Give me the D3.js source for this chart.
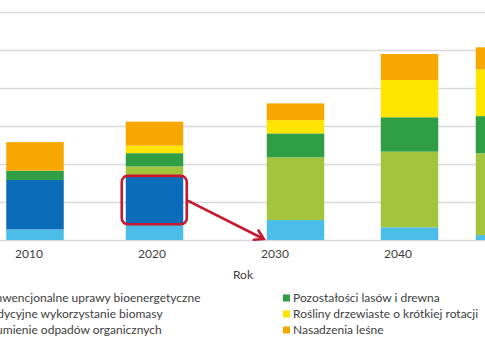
<!DOCTYPE html>
<html>
<head>
<meta charset="utf-8">
<script src="https://cdn.jsdelivr.net/npm/d3@7"></script>
<style>
  html, body { margin: 0; padding: 0; background: #ffffff; overflow: hidden; }
  svg { display: block; }
  text { font-family: Lato, "Open Sans", sans-serif; fill: #404040; }
</style>
</head>
<body>
<svg id="chart" width="485" height="360"></svg>
<script>
// ---- data ----
const years = [2010, 2020, 2030, 2040, 2050];
const yearLabels = [2010, 2020, 2030, 2040];
const seriesNames = [
  "Strumienie odpadów organicznych",
  "Tradycyjne wykorzystanie biomasy",
  "Konwencjonalne uprawy bioenergetyczne",
  "Pozostałości lasów i drewna",
  "Rośliny drzewiaste o krótkiej rotacji",
  "Nasadzenia leśne"
];
const strumienie   = [5.6, 8.0, 10.5, 6.7, 2.6];
const tradycyjne   = [26.0, 26.0, 0, 0, 0];
const konwencjonal = [0, 4.7, 33.0, 39.8, 43.0];
const pozostalosci = [4.9, 7.0, 12.6, 18.1, 19.6];
const rosliny      = [0, 4.0, 7.0, 19.6, 24.6];
const nasadzenia   = [15.0, 12.6, 8.8, 13.7, 11.6];
const yTicks = [0, 20, 40, 60, 80, 100, 120];
const xAxisTitle = "Rok";
const legendLeft = ["Konwencjonalne uprawy bioenergetyczne", "Tradycyjne wykorzystanie biomasy", "Strumienie odpadów organicznych"];
const legendRight = ["Pozostałości lasów i drewna", "Rośliny drzewiaste o krótkiej rotacji", "Nasadzenia leśne"];

// ---- styles ----
const colors = {
  "Strumienie odpadów organicznych": "#4cbde9",
  "Tradycyjne wykorzystanie biomasy": "#0b6dba",
  "Konwencjonalne uprawy bioenergetyczne": "#a3c53d",
  "Pozostałości lasów i drewna": "#2f9e44",
  "Rośliny drzewiaste o krótkiej rotacji": "#ffe400",
  "Nasadzenia leśne": "#f6a800"
};
const red = "#c8182f";

const rows = years.map((yr, i) => ({
  year: yr,
  "Strumienie odpadów organicznych": strumienie[i],
  "Tradycyjne wykorzystanie biomasy": tradycyjne[i],
  "Konwencjonalne uprawy bioenergetyczne": konwencjonal[i],
  "Pozostałości lasów i drewna": pozostalosci[i],
  "Rośliny drzewiaste o krótkiej rotacji": rosliny[i],
  "Nasadzenia leśne": nasadzenia[i]
}));
const stacked = d3.stack().keys(seriesNames)(rows);

const svg = d3.select("#chart");
const baseY = 240, topY = 12;
const y = d3.scaleLinear().domain([0, 120]).range([baseY, topY]);
// bar centres (the reference's bars sit irregularly)
const xBar = d3.scaleLinear().domain(years).range([35, 154.5, 295.5, 409.5, 504.5]);
const barW = 57.5;
// category labels are evenly spaced
const xLab = d3.scaleLinear().domain([2010, 2040]).range([28.5, 397.5]);

// gridlines
const yAxis = d3.axisLeft(y).tickValues(yTicks).tickSize(-520).tickFormat("");
const ga = svg.append("g").attr("transform", "translate(-10,0)").call(yAxis);
ga.select(".domain").remove();
ga.selectAll(".tick line").attr("stroke", "#d9d9d9").attr("stroke-width", 1.5);

// bars
svg.append("g").selectAll("g").data(stacked).join("g")
  .attr("fill", d => colors[d.key])
  .selectAll("rect").data(d => d).join("rect")
  .attr("x", d => xBar(d.data.year) - barW / 2)
  .attr("width", barW)
  .attr("y", d => y(d[1]))
  .attr("height", d => y(d[0]) - y(d[1]));

// x axis labels
const xAxis = d3.axisBottom(xLab).tickValues(yearLabels).tickSize(0).tickPadding(0).tickFormat(d3.format("d"));
const gx = svg.append("g").attr("transform", `translate(0,${baseY})`).call(xAxis);
gx.select(".domain").remove();
gx.selectAll("text").attr("dy", null).attr("y", 18).attr("font-size", 12)
  .attr("font-family", "Lato, sans-serif").attr("fill", "#404040");

svg.append("text").attr("x", 243).attr("y", 279).attr("text-anchor", "middle")
  .attr("font-size", 12).text(xAxisTitle);

// annotation: red box around traditional biomass 2020 and arrow to 2030
const tradSeries = stacked.find(s => s.key === "Tradycyjne wykorzystanie biomasy");
const t20 = tradSeries[years.indexOf(2020)];
const bx0 = xBar(2020) - barW / 2 - 4, bx1 = xBar(2020) + barW / 2 + 3.5;
const by0 = y(t20[1]) + 0.5, by1 = y(t20[0]) - 0.5;
svg.append("rect").attr("x", bx0).attr("y", by0).attr("width", bx1 - bx0).attr("height", by1 - by0)
  .attr("rx", 6).attr("fill", "none").attr("stroke", red).attr("stroke-width", 2.6);

const ax0 = bx1, ay0 = (by0 + by1) / 2;
const ax1 = xBar(2030) - barW / 2 - 3, ay1 = y(0) - 1;
svg.append("line").attr("x1", ax0).attr("y1", ay0).attr("x2", ax1).attr("y2", ay1)
  .attr("stroke", red).attr("stroke-width", 2.6);
const ang = Math.atan2(ay1 - ay0, ax1 - ax0);
const hl = 10, spread = 0.55;
const head = [
  [ax1 - hl * Math.cos(ang - spread), ay1 - hl * Math.sin(ang - spread)],
  [ax1, ay1],
  [ax1 - hl * Math.cos(ang + spread), ay1 - hl * Math.sin(ang + spread)]
];
svg.append("path").attr("d", d3.line()(head)).attr("fill", "none")
  .attr("stroke", red).attr("stroke-width", 2.6).attr("stroke-linejoin", "miter").attr("stroke-linecap", "round");

// legend
const legRowY = [302, 318, 334];
const rightX = 293;
const lg = svg.append("g").attr("font-size", 12);
legendRight.forEach((name, i) => {
  lg.append("rect").attr("x", rightX - 10).attr("y", legRowY[i] - 7.5).attr("width", 7).attr("height", 7)
    .attr("fill", colors[name]);
  lg.append("text").attr("x", rightX).attr("y", legRowY[i]).text(name);
});
// left column: measure so the first entry ends where it does in the reference
const probe = lg.append("text").attr("x", 0).attr("y", -50).text(legendLeft[0]);
const w0 = probe.node().getComputedTextLength();
probe.remove();
const leftX = 200.5 - w0;
legendLeft.forEach((name, i) => {
  lg.append("rect").attr("x", leftX - 10).attr("y", legRowY[i] - 7.5).attr("width", 7).attr("height", 7)
    .attr("fill", colors[name]);
  lg.append("text").attr("x", leftX).attr("y", legRowY[i]).text(name);
});
</script>
</body>
</html>
